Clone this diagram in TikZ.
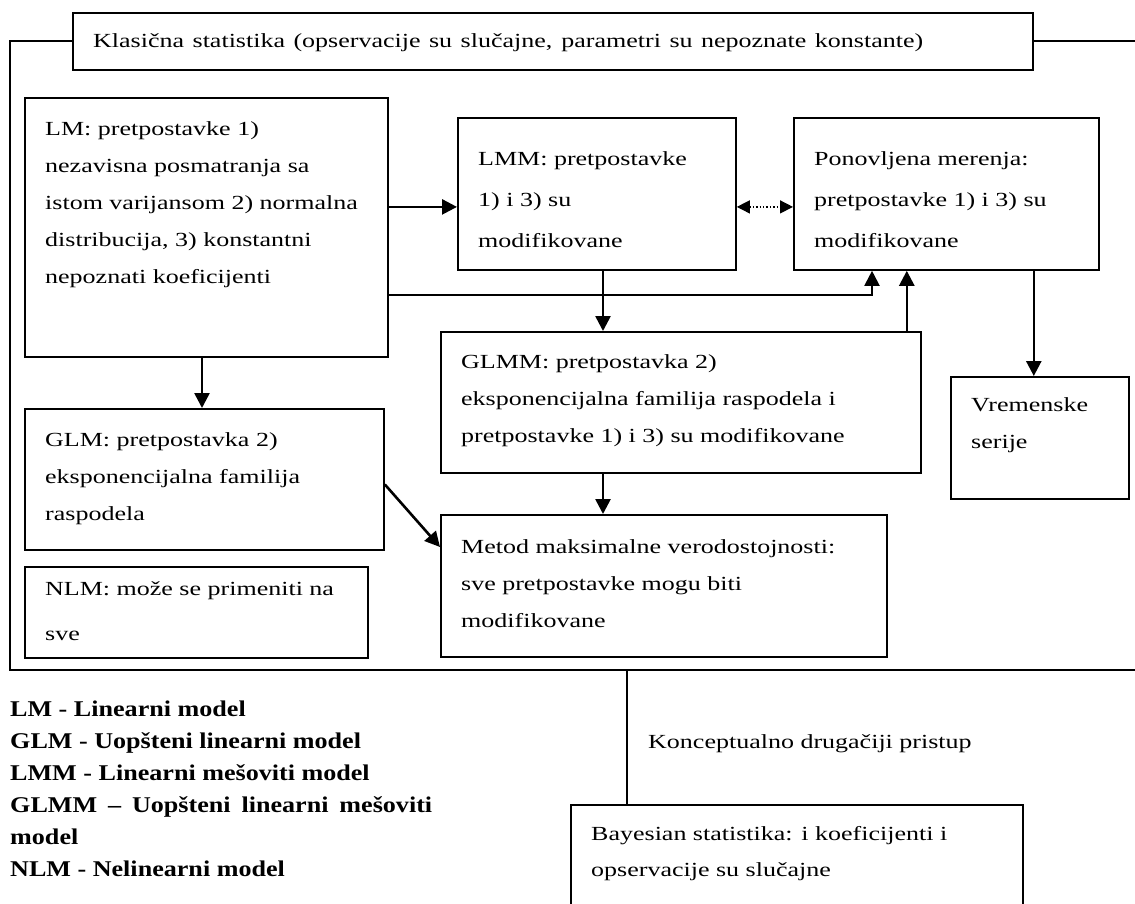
\documentclass[tikz,border=0pt]{standalone}
\usepackage{fontspec}
\setmainfont{Liberation Serif}[FakeStretch=1.3, BoldFeatures={FakeStretch=1.16}]
\usetikzlibrary{arrows.meta,calc,positioning}
\tikzset{
  box/.style={draw, line width=1.8pt, anchor=north west, inner sep=0pt},
  txt/.style={anchor=north west, align=left, inner sep=0pt,
              font=\fontsize{20}{37}\selectfont},
  arr/.style={line width=2.6pt, -{Triangle[length=15pt,width=15pt]}},
  dotarr/.style={line width=1.4pt, dotted,
                 {Triangle[length=13pt,width=13pt]}-{Triangle[length=13pt,width=13pt]}},
  frame/.style={line width=2pt}
}
\begin{document}
\begin{tikzpicture}[x=1pt,y=-1pt]
\useasboundingbox (0,0) rectangle (1135,903);

\node[box, minimum width=960, minimum height=57] (klas) at (72,12) {};
\node[txt] (klast) at ($(klas.north west)+(21,21)$)
  {\makebox[830pt][s]{Klasična statistika (opservacije su slučajne, parametri su nepoznate konstante)}};
\coordinate (framebl) at (10,670);
\coordinate (framebr) at (1135,670);
\coordinate (frametr) at (1135,40);
\draw[frame] (klas.west) -| (framebl) -- (framebr);
\draw[frame] (klas.east) -- (klas.east -| frametr);

\node[box, minimum width=363, minimum height=259] (lm) at (24,97) {};
\node[txt] (lmt) at ($(lm.north west)+(21,24)$)
  {LM: pretpostavke 1)\\ nezavisna posmatranja sa\\ istom varijansom 2) normalna\\
   distribucija, 3) konstantni\\ nepoznati koeficijenti};

\node[box, minimum width=278, minimum height=152] (lmm) at (457,117) {};
\node[txt, font=\fontsize{20}{41}\selectfont] (lmmt) at ($(lmm.north west)+(21,34)$)
  {LMM: pretpostavke\\ 1) i 3) su\\ modifikovane};

\node[box, minimum width=305, minimum height=152] (ponov) at (793,117) {};
\node[txt, font=\fontsize{20}{41}\selectfont] (ponovt) at ($(ponov.north west)+(21,34)$)
  {Ponovljena merenja:\\ pretpostavke 1) i 3) su\\ modifikovane};

\node[box, minimum width=480, minimum height=141] (glmm) at (440,331) {};
\node[txt] (glmmt) at ($(glmm.north west)+(21,23)$)
  {GLMM: pretpostavka 2)\\ eksponencijalna familija raspodela i\\
   pretpostavke 1) i 3) su modifikovane};

\node[box, minimum width=178, minimum height=122] (vrem) at (950,376) {};
\node[txt] (vremt) at ($(vrem.north west)+(21,21)$) {Vremenske\\ serije};

\node[box, minimum width=359, minimum height=141] (glm) at (24,408) {};
\node[txt] (glmt) at ($(glm.north west)+(21,24)$)
  {GLM: pretpostavka 2)\\ eksponencijalna familija\\ raspodela};

\node[box, minimum width=446, minimum height=142] (metod) at (440,514) {};
\node[txt] (metodt) at ($(metod.north west)+(21,25)$)
  {Metod maksimalne verodostojnosti:\\ sve pretpostavke mogu biti\\ modifikovane};

\node[box, minimum width=343, minimum height=91] (nlm) at (24,566) {};
\node[txt, font=\fontsize{20}{45}\selectfont] (nlmt) at ($(nlm.north west)+(21,15)$)
  {NLM: može se primeniti na\\ sve};

\node[box, minimum width=452, minimum height=140] (bayes) at (570,804) {};
\node[txt, font=\fontsize{20}{36}\selectfont] (bayest) at ($(bayes.north west)+(21,22)$)
  {Bayesian statistika: i koeficijenti i\\ opservacije su slučajne};

\node[txt] (koncept) at (648,734) {Konceptualno drugačiji pristup};

\node[txt, font=\fontsize{22.5}{32}\selectfont\bfseries] (legenda) at (10,701)
  {LM - Linearni model\\ GLM - Uopšteni linearni model\\ LMM - Linearni mešoviti model\\
   \makebox[422pt][s]{GLMM – Uopšteni linearni mešoviti}\\ model\\ NLM - Nelinearni model};

\coordinate (lmmin) at ($(lmm.west)+(0,13)$);
\draw[arr] (lm.east |- lmmin) -- (lmmin);
\draw[dotarr] ($(lmm.east)+(0,13)$) -- ($(ponov.west)+(0,13)$);
\coordinate (l2g) at ($(lmm.south west)+(146,0)$);
\draw[arr] (l2g) -- (l2g |- glmm.north);
\draw[arr, line width=2pt] ($(lm.east)+(0,68)$) -| ($(ponov.south west)+(79,0)$);
\coordinate (g2p) at ($(glmm.north east)+(-15,0)$);
\draw[arr] (g2p) -- (g2p |- ponov.south);
\coordinate (p2v) at ($(ponov.south east)+(-66,0)$);
\draw[arr] (p2v) -- (p2v |- vrem.north);
\coordinate (lm2glm) at ($(lm.south west)+(178,0)$);
\draw[arr] (lm2glm) -- (lm2glm |- glm.north);
\draw[arr] ($(glm.east)+(0,5)$) -- ($(metod.north west)+(0,33)$);
\coordinate (g2m) at ($(glmm.south west)+(163,0)$);
\draw[arr] (g2m) -- (g2m |- metod.north);
\coordinate (b2f) at ($(bayes.north west)+(57,0)$);
\draw[frame] (b2f) -- (b2f |- framebl);
\end{tikzpicture}
\end{document}
